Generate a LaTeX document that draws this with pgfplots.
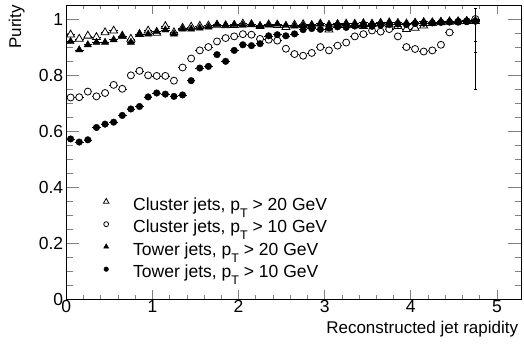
\documentclass[border=0pt]{standalone}
\usepackage{fontspec}
\setmainfont{Liberation Sans}
\usepackage{pgfplots}
\usepackage{pgfplotstable}
\pgfplotsset{compat=1.18}

\pgfplotstableread{
x    c20   c10   t20   t10
0.05 0.944 0.720 0.920 0.572
0.15 0.929 0.721 0.890 0.561
0.25 0.940 0.741 0.908 0.569
0.35 0.935 0.724 0.917 0.613
0.45 0.952 0.736 0.917 0.625
0.55 0.958 0.765 0.926 0.632
0.65 0.940 0.751 0.938 0.656
0.75 0.929 0.799 0.917 0.679
0.85 0.946 0.815 0.946 0.688
0.95 0.958 0.799 0.946 0.722
1.05 0.950 0.797 0.956 0.736
1.15 0.974 0.797 0.961 0.732
1.25 0.952 0.780 0.946 0.724
1.35 0.968 0.827 0.964 0.729
1.45 0.972 0.859 0.964 0.780
1.55 0.975 0.888 0.968 0.825
1.65 0.976 0.900 0.971 0.831
1.75 0.979 0.920 0.980 0.873
1.85 0.977 0.932 0.978 0.849
1.95 0.978 0.938 0.980 0.888
2.05 0.983 0.946 0.978 0.908
2.15 0.981 0.944 0.981 0.905
2.25 0.974 0.929 0.976 0.912
2.35 0.980 0.926 0.979 0.940
2.45 0.978 0.923 0.982 0.944
2.55 0.971 0.894 0.978 0.940
2.65 0.979 0.875 0.975 0.947
2.75 0.981 0.869 0.977 0.962
2.85 0.976 0.879 0.980 0.966
2.95 0.983 0.900 0.983 0.963
3.05 0.962 0.888 0.981 0.968
3.15 0.980 0.905 0.984 0.972
3.25 0.983 0.916 0.982 0.970
3.35 0.978 0.938 0.985 0.975
3.45 0.974 0.946 0.987 0.977
3.55 0.982 0.959 0.984 0.974
3.65 0.984 0.955 0.988 0.978
3.75 0.980 0.964 0.990 0.980
3.85 0.974 0.938 0.988 0.982
3.95 0.964 0.900 0.986 0.980
4.05 0.968 0.893 0.989 0.984
4.15 0.976 0.884 0.991 0.985
4.25 0.985 0.888 0.990 0.986
4.35 0.988 0.908 0.992 0.988
4.45 0.990 0.952 0.993 0.989
4.55 0.991 0.990 0.992 0.990
4.65 0.992 0.992 0.994 0.991
4.75 0.992 1.000 0.995 0.992
}\purity

\newcommand{\pT}{p\raisebox{-7bp}{\fontsize{12.5bp}{13bp}\selectfont T}}

\begin{document}
\begin{tikzpicture}
\useasboundingbox (0,0) rectangle (524bp,345bp);
\begin{axis}[
  at={(66.3bp,45.7bp)}, anchor=south west,
  width=454.7bp, height=294.3bp, scale only axis,
  xmin=0, xmax=5.28, ymin=0, ymax=1.05,
  xtick={0,1,2,3,4,5}, minor x tick num=4,
  ytick={0,0.2,0.4,0.6,0.8,1}, minor y tick num=3,
  x tick style={/pgfplots/major tick length=9bp, /pgfplots/minor tick length=4.5bp, line width=0.6bp},
  y tick style={/pgfplots/major tick length=13bp, /pgfplots/minor tick length=6.5bp, line width=0.6bp},
  axis line style={line width=0.8bp},
  /pgf/number format/assume math mode=true,
  tick label style={font=\fontsize{17.5bp}{20bp}\selectfont},
  xticklabel style={inner sep=0pt, anchor=north, yshift=-1bp},
  yticklabel style={inner sep=0pt, anchor=east, xshift=-3bp},
  xlabel={Reconstructed jet rapidity},
  ylabel={Purity},
  label style={font=\fontsize{17bp}{20bp}\selectfont},
  xlabel style={at={(axis description cs:1,-0.1155)}, anchor=base east, inner sep=0pt, xshift=-2.7bp},
  ylabel style={at={(axis description cs:-0.0992,1)}, anchor=base east, inner sep=0pt},
  legend style={at={(axis description cs:0.0653,0.346)}, anchor=north west, draw=none, fill=none,
    inner sep=0pt, row sep=2.5bp, column sep=0pt,
    font=\fontsize{17.5bp}{20bp}\selectfont,
    nodes={inner sep=0pt, text height=12.5bp, text depth=7.5bp}},
  legend cell align=left,
  legend image code/.code={\path[draw=none, fill=none] (-10bp,0bp) rectangle (27bp,1bp); \draw[#1] plot coordinates {(0bp,6bp)};},
  legend image post style={/tikz/every mark/.append style={scale=0.7}},
  error bars/error bar style={line width=0.6bp, black},
]
% error bars first (drawn beneath the markers)
\addplot[forget plot, draw=none, mark=none,
  error bars/.cd, x dir=both, x fixed=0.05, y dir=both, y fixed=0.005, error mark=none]
  table[x=x, y=c20] {\purity};
\addplot[forget plot, draw=none, mark=none,
  error bars/.cd, x dir=both, x fixed=0.05, y dir=both, y fixed=0.008, error mark=none]
  table[x=x, y=c10] {\purity};
\addplot[forget plot, draw=none, mark=none,
  error bars/.cd, x dir=both, x fixed=0.05, y dir=both, y fixed=0.005, error mark=none]
  table[x=x, y=t20] {\purity};
\addplot[forget plot, draw=none, mark=none,
  error bars/.cd, x dir=both, x fixed=0.05, y dir=both, y fixed=0.008, error mark=none]
  table[x=x, y=t10] {\purity};
\addplot[forget plot, draw=none, mark=none,
  error bars/.cd, y dir=both, y explicit, error mark=-, error mark options={rotate=90, mark size=1.5bp, line width=0.6bp}]
  coordinates {(4.75,1.000) += (0,0.04) -= (0,0.25)
               (4.75,0.992) += (0,0.00) -= (0,0.07)
               (4.752,0.992) += (0,0.00) -= (0,0.11)};
% markers
\addplot[only marks, black, mark=triangle*, mark size=4.6bp, mark options={line width=0.8bp, fill=white, draw=black}]
  table[x=x, y=c20] {\purity};
\addlegendentry{Cluster jets, \pT{} > 20 GeV}
\addplot[only marks, black, mark=*, mark size=3.5bp, mark options={line width=0.8bp, fill=white, draw=black}]
  table[x=x, y=c10] {\purity};
\addlegendentry{Cluster jets, \pT{} > 10 GeV}
\addplot[only marks, black, mark=triangle*, mark size=4.2bp, mark options={fill=black}]
  table[x=x, y=t20] {\purity};
\addlegendentry{Tower jets, \pT{} > 20 GeV}
\addplot[only marks, black, mark=*, mark size=3.3bp, mark options={fill=black}]
  table[x=x, y=t10] {\purity};
\addlegendentry{Tower jets, \pT{} > 10 GeV}
\end{axis}
\end{tikzpicture}
\end{document}
